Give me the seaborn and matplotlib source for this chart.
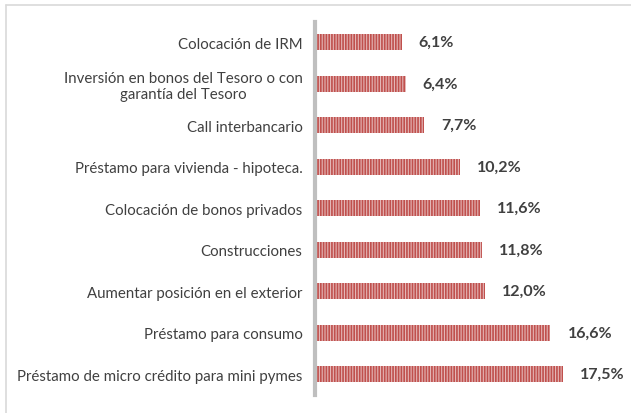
import matplotlib
matplotlib.use("Agg")
import matplotlib.pyplot as plt
import seaborn as sns
import pandas as pd

# Categorias y valores (en %)
categorias = [
    "Colocación de IRM",
    "Inversión en bonos del Tesoro o con\ngarantía del Tesoro",
    "Call interbancario",
    "Préstamo para vivienda - hipoteca.",
    "Colocación de bonos privados",
    "Construcciones",
    "Aumentar posición en el exterior",
    "Préstamo para consumo",
    "Préstamo de micro crédito para mini pymes",
]
valores = [6.1, 6.4, 7.7, 10.2, 11.6, 11.8, 12.0, 16.6, 17.5]
etiquetas = ["6,1%", "6,4%", "7,7%", "10,2%", "11,6%", "11,8%", "12,0%", "16,6%", "17,5%"]

data = pd.DataFrame({"Categoria": categorias, "Valor": valores})

sns.set_style("white")
plt.rcParams["font.family"] = ["Lato", "DejaVu Sans"]
plt.rcParams["hatch.color"] = "#c0504d"
plt.rcParams["hatch.linewidth"] = 1.2

W, H = 631, 414
fig = plt.figure(figsize=(W / 100, H / 100), dpi=100)
ax = fig.add_axes([315 / W, 18 / H, 305 / W, 373.5 / H])

sns.barplot(data=data, x="Valor", y="Categoria", orient="h", color="#ecb0af",
            width=0.39, ax=ax)

for p in ax.patches:
    p.set_hatch("||||||")
    p.set_edgecolor("#c0504d")
    p.set_linewidth(0)

for i, (v, t) in enumerate(zip(valores, etiquetas)):
    ax.text(v + 1.2, i, t, va="center", ha="left", fontsize=11.5,
            fontweight="bold", color="#404040")

ax.set_xlim(0, 21.5)
ax.set_ylim(8.5, -0.5)
ax.set_xlabel("")
ax.set_ylabel("")
ax.set_xticks([])
ax.tick_params(axis="y", length=0, pad=9, labelsize=10.8, labelcolor="#404040")
for lbl in ax.get_yticklabels():
    lbl.set_horizontalalignment("right")
    lbl.set_multialignment("center")

for s in ["top", "right", "bottom"]:
    ax.spines[s].set_visible(False)
ax.spines["left"].set_color("#bfbfbf")
ax.spines["left"].set_linewidth(3)

# borde del grafico
fig.add_artist(plt.Line2D([5.5 / W, 5.5 / W], [0, 1 - 5.5 / H], color="#d9d9d9", lw=1.2))
fig.add_artist(plt.Line2D([5.5 / W, 1], [1 - 5.5 / H, 1 - 5.5 / H], color="#d9d9d9", lw=1.2))

fig.savefig("out.png", dpi=100)
